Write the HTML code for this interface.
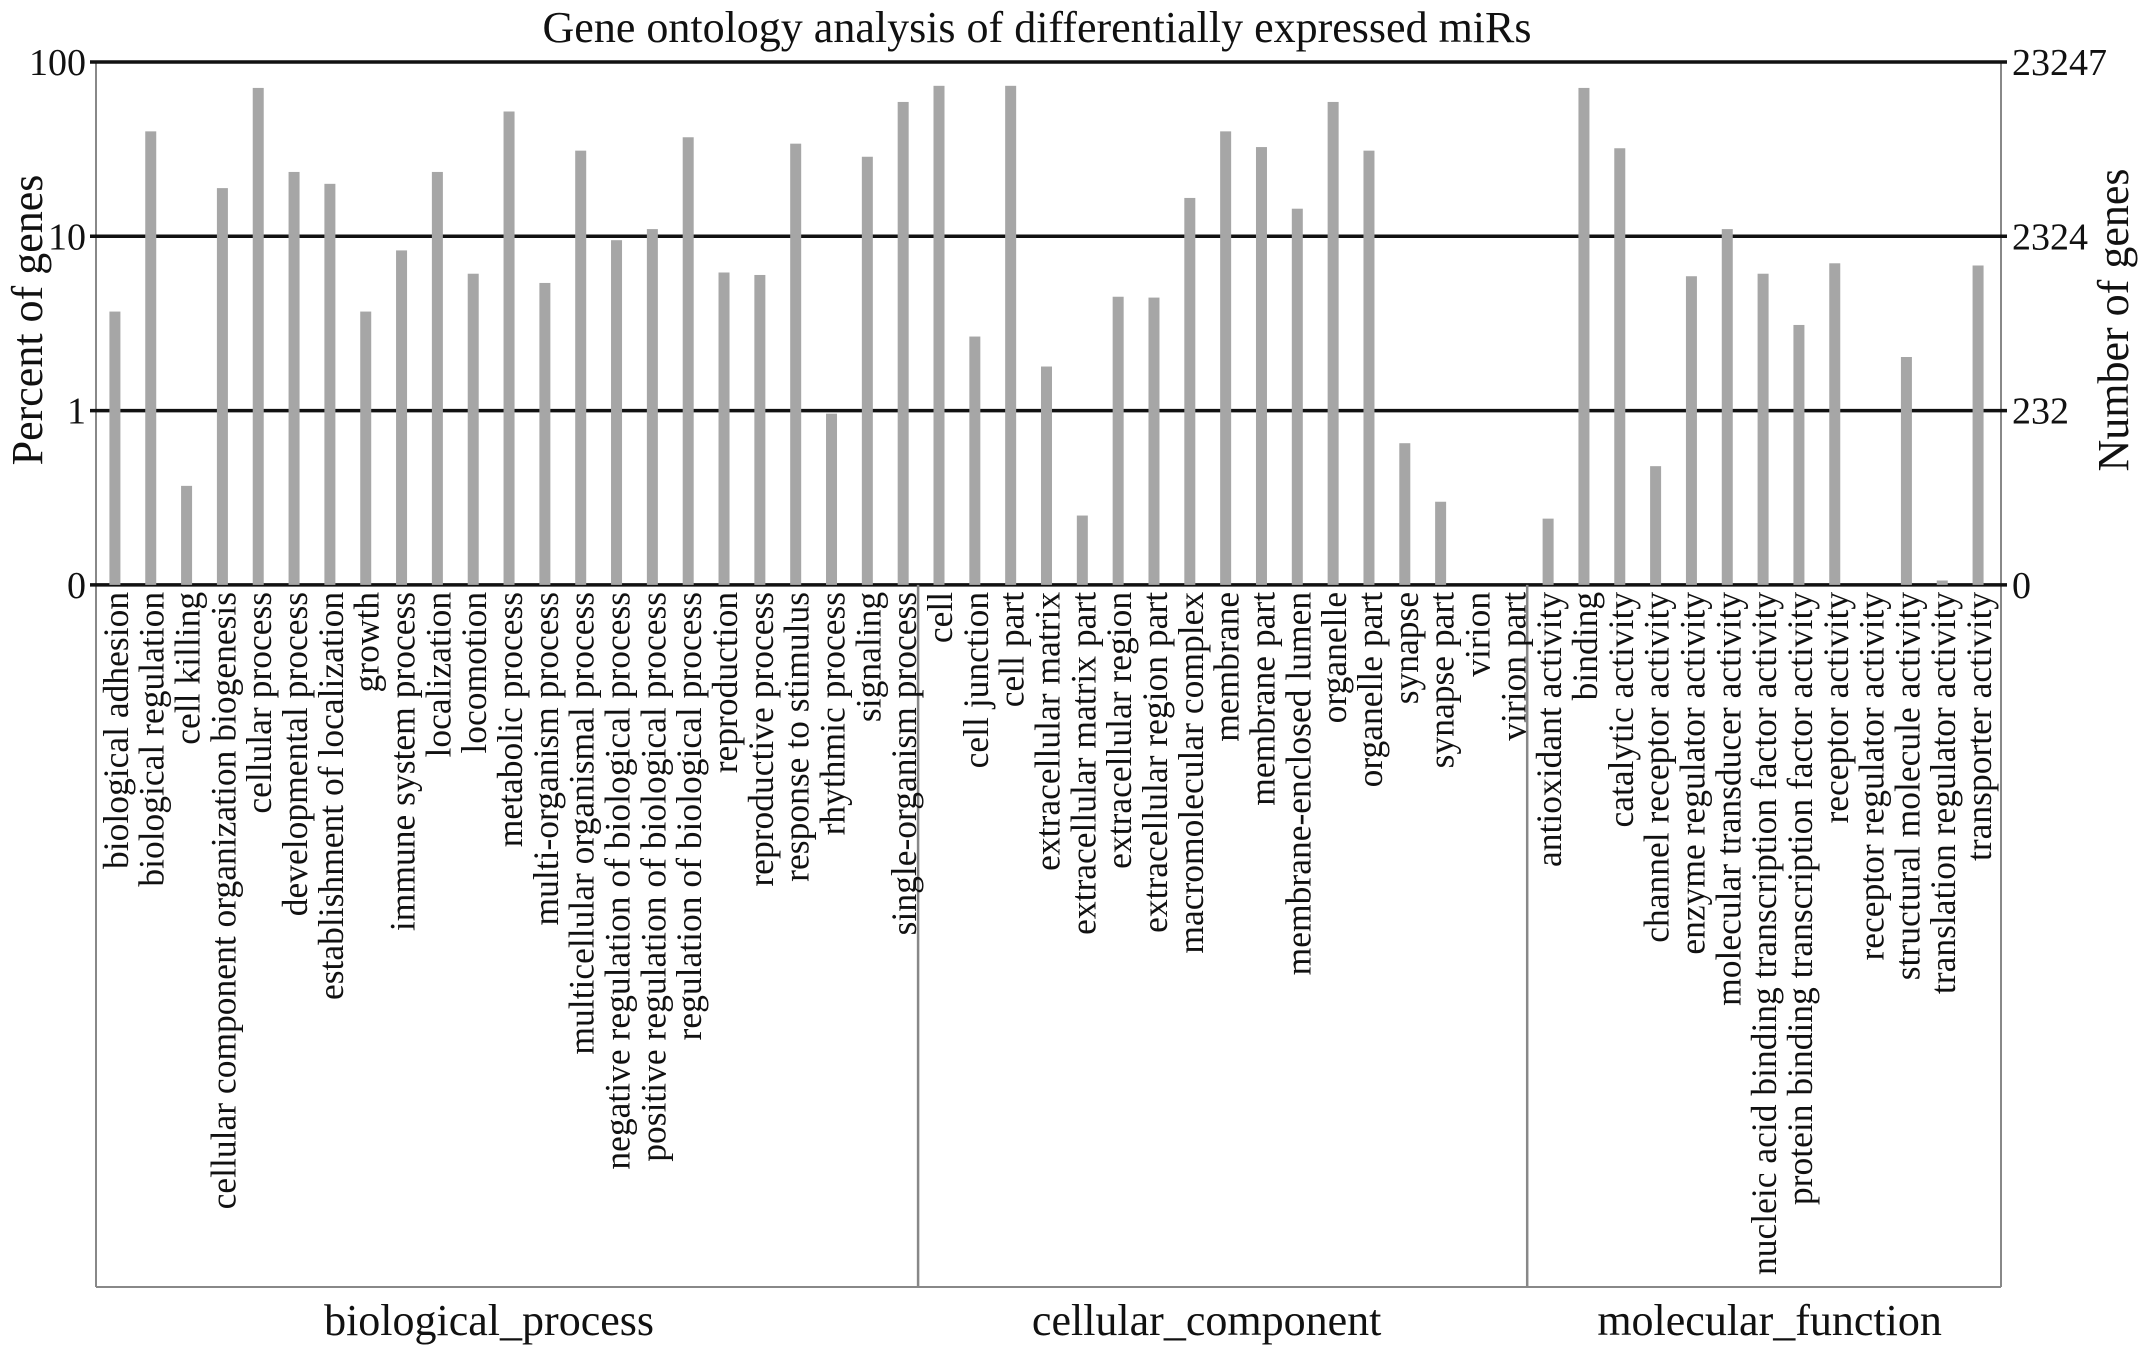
<!DOCTYPE html>
<html><head><meta charset="utf-8"><style>
html,body{margin:0;padding:0;background:#fff}
svg{display:block}
text{font-family:"Liberation Serif",serif;fill:#111}
</style></head><body>
<svg id="chart" width="2150" height="1356" viewBox="0 0 2150 1356">
<text x="1037" y="42" font-size="44" text-anchor="middle">Gene ontology analysis of differentially expressed miRs</text>
<text transform="translate(42,320) rotate(-90)" font-size="44" text-anchor="middle">Percent of genes</text>
<text transform="translate(2128,320) rotate(-90)" font-size="44" text-anchor="middle">Number of genes</text>
<g id="grid"></g><g id="bars"></g><g id="labels"></g>
</svg>
<script>
const categories=["biological adhesion","biological regulation","cell killing","cellular component organization biogenesis","cellular process","developmental process","establishment of localization","growth","immune system process","localization","locomotion","metabolic process","multi-organism process","multicellular organismal process","negative regulation of biological process","positive regulation of biological process","regulation of biological process","reproduction","reproductive process","response to stimulus","rhythmic process","signaling","single-organism process","cell","cell junction","cell part","extracellular matrix","extracellular matrix part","extracellular region","extracellular region part","macromolecular complex","membrane","membrane part","membrane-enclosed lumen","organelle","organelle part","synapse","synapse part","virion","virion part","antioxidant activity","binding","catalytic  activity","channel receptor activity","enzyme regulator activity","molecular transducer activity","nucleic acid binding transcription factor activity","protein binding transcription factor activity","receptor activity","receptor regulator activity","structural molecule activity","translation regulator activity","transporter activity"];
const percentValues=[3.7,40,0.37,18.9,71,23.4,20,3.7,8.3,23.4,6.1,52,5.4,31,9.5,11,37,6.2,6.0,34,0.96,28.6,59,73,2.66,73,1.79,0.25,4.5,4.45,16.6,40,32.5,14.4,59,31,0.65,0.30,0,0,0.24,71,32,0.48,5.9,11,6.1,3.1,7.0,0,2.03,0.106,6.8];
const groupNames=["biological_process","cellular_component","molecular_function"];
const groupSizes=[23,17,13];
const leftTicks=[0.1,1,10,100];
const leftTickLabels=["0","1","10","100"];
const rightTickLabels=["0","232","2324","23247"];

const NS="http://www.w3.org/2000/svg";
const X0=96,X1=2001,Y100=62,DEC=174.3;
const bw=35.83, XS=97;
function xScale(i){return XS+(i+0.5)*bw;}
function yScale(v){return Y100+(2-Math.log10(v))*DEC;}
const Y0=yScale(0.1),BOX=1287;
const groupLabelShift=[-20,-19,4];
function mk(tag,attrs,parent){const e=document.createElementNS(NS,tag);for(const k in attrs)e.setAttribute(k,attrs[k]);parent.appendChild(e);return e;}
const grid=document.getElementById('grid'),bars=document.getElementById('bars'),labels=document.getElementById('labels');
let l=mk('line',{x1:X0,y1:Y100,x2:X0,y2:BOX,stroke:'#888','stroke-width':2},grid);


l=mk('line',{x1:X1,y1:Y100,x2:X1,y2:BOX,stroke:'#888','stroke-width':2},grid);


l=mk('line',{x1:X0,y1:BOX,x2:X1,y2:BOX,stroke:'#888','stroke-width':2},grid);


leftTicks.forEach((t,k)=>{
  const y=yScale(t);
  const g=mk('line',{x1:X0-6,y1:y,x2:X1+6,y2:y,stroke:'#111','stroke-width':3.5},grid);
  
  
  const a=mk('text',{x:X0-10,y:y+13,'font-size':38,'text-anchor':'end'},grid);a.textContent=leftTickLabels[k];
  
  
  const b=mk('text',{x:X1+11,y:y+13,'font-size':38},grid);b.textContent=rightTickLabels[k];
  
  
});
let start=0;
groupSizes.forEach((n,g)=>{
  const xs=XS+start*bw, xe=(g==groupSizes.length-1)?X1:XS+(start+n)*bw;
  if(g>0){const s=mk('line',{x1:xs-3,y1:Y0,x2:xs-3,y2:BOX,stroke:'#888','stroke-width':2.5},grid);
    
    }
  const t=mk('text',{x:(Math.max(xs,X0)+xe)/2+groupLabelShift[g],y:1335,'font-size':44,'text-anchor':'middle'},grid);t.textContent=groupNames[g];
  
  
  start+=n;
});
categories.forEach((c,i)=>{
  const v=percentValues[i];
  if(v>0.1){
    const y=yScale(v);
    const r=mk('rect',{x:xScale(i)-5.5,y:y,width:11,height:Y0-y,fill:'#a6a6a6'},bars);
    
    
  }
  const t=mk('text',{transform:`translate(${xScale(i)+1},${Y0+7}) rotate(-90)`,'font-size':35.5,'text-anchor':'end','dominant-baseline':'central'},labels);
  t.textContent=c;
  
  
});
</script>
</body></html>
